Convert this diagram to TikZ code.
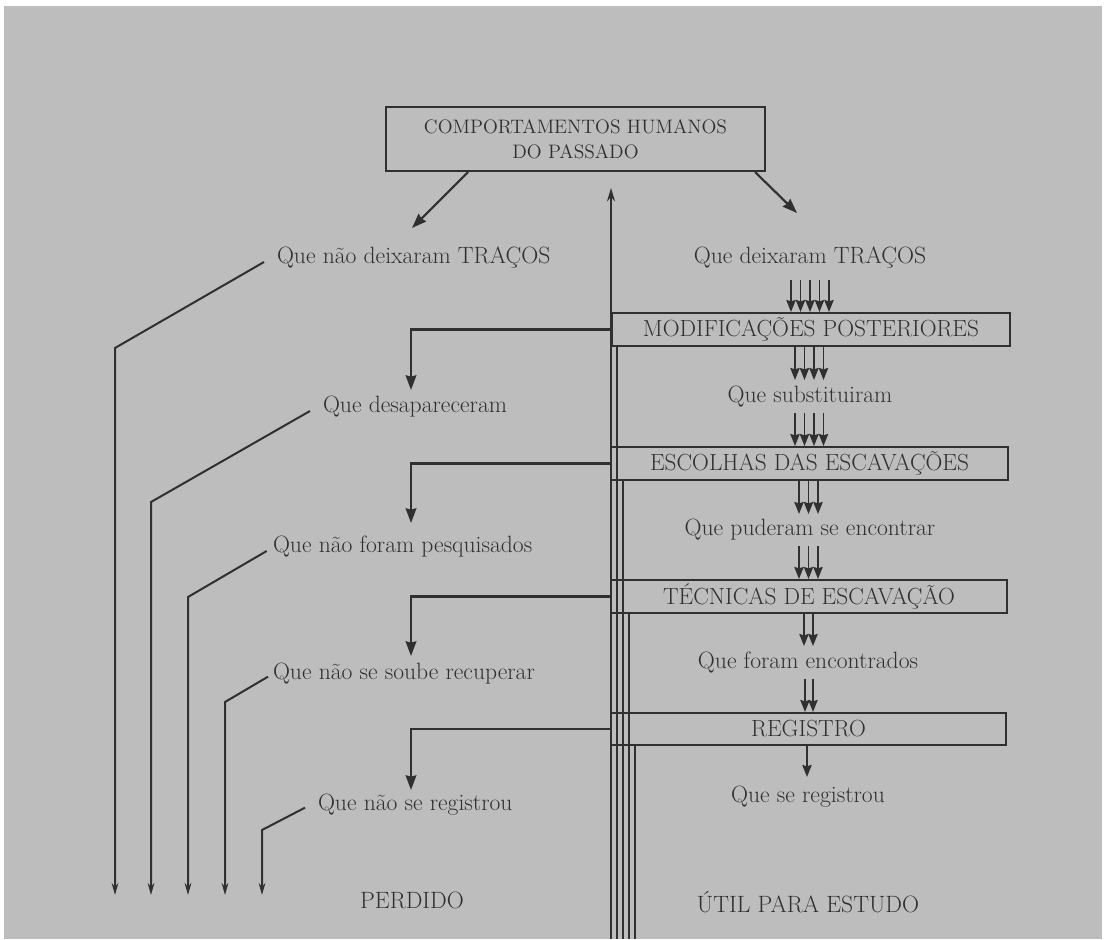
\documentclass[tikz,border=0pt]{standalone}
\usetikzlibrary{arrows.meta}
\definecolor{bg}{RGB}{189,189,189}
\definecolor{ink}{RGB}{48,48,48}
\begin{document}
\begin{tikzpicture}[x=0.75pt,y=-0.75pt,
  line width=1.5pt,
  arr/.style={draw=ink, -{Stealth[length=11pt,width=8pt,inset=1pt]}, line width=1.6pt},
  sarr/.style={draw=ink, -{Stealth[length=9pt,width=7pt,inset=1pt]}, line width=1.3pt},
  larr/.style={draw=ink, -{Stealth[length=9pt,width=5pt]}, line width=1.5pt},
  vline/.style={draw=ink, line width=1.6pt},
  boxn/.style={draw=ink, fill=bg, line width=1.5pt, minimum height=24.75pt, inner sep=0pt, text=ink, font=\fontsize{17.5}{20}\selectfont},
  lbl/.style={text=ink, font=\fontsize{17.7}{20}\selectfont, inner sep=0pt},
]
\useasboundingbox (0,0) rectangle (1106,939);
\fill[white] (0,0) rectangle (1106,939);
\fill[bg] (4,6) rectangle (1102,939);

% vertical channel line
\draw[vline, {Stealth[length=10pt,width=6pt]}-] (611,188) -- (611,939);

% boxes
\node[boxn, minimum width=284pt, minimum height=48pt, align=center, font=\fontsize{14.6}{18.75}\selectfont] (top) at (575.5,139) {COMPORTAMENTOS HUMANOS\\DO PASSADO};
\node[boxn, minimum width=298.5pt] (m1) at (811,329.5) {MODIFICAÇÕES POSTERIORES};
\node[boxn, minimum width=297.75pt] (m2) at (809.5,463.5) {ESCOLHAS DAS ESCAVAÇÕES};
\node[boxn, minimum width=297pt] (m3) at (809,596.5) {TÉCNICAS DE ESCAVAÇÃO};
\node[boxn, minimum width=296.25pt, minimum height=24pt] (m4) at (808.5,729) {REGISTRO};

\draw[vline] (617,0 |- m1.south) -- (617,939);
\draw[vline] (623,0 |- m2.south) -- (623,939);
\draw[vline] (629,0 |- m3.south) -- (629,939);
\draw[vline] (635,0 |- m4.south) -- (635,939);

% right labels
\node[lbl] (r0) at (810,258) {Que deixaram TRAÇOS};
\node[lbl] (r1) at (810,397) {Que substituiram};
\node[lbl] (r2) at (810,530) {Que puderam se encontrar};
\node[lbl] (r3) at (808,663) {Que foram encontrados};
\node[lbl] (r4) at (808,797) {Que se registrou};
\node[lbl] (util) at (808,902) {ÚTIL PARA ESTUDO};

% left labels
\node[lbl, anchor=west] (l0) at (276,258) {Que não deixaram TRAÇOS};
\node[lbl, anchor=west] (l1) at (322,407) {Que desapareceram};
\node[lbl, anchor=west] (l2) at (272,547) {Que não foram pesquisados};
\node[lbl, anchor=west] (l3) at (272,674) {Que não se soube recuperar};
\node[lbl, anchor=west] (l4) at (317,805) {Que não se registrou};
\node[lbl] (perd) at (412,900) {PERDIDO};

% arrows from top box
\coordinate (tA) at (412,228);
\coordinate (tB) at (797,213);
\draw[arr] (468,0 |- top.south) -- (tA);
\draw[arr] (755,0 |- top.south) -- (tB);

% bundles of arrows on the right
\foreach \x in {791,800.5,810,819.5,829} \draw[sarr] (\x,280) -- (\x,0 |- m1.north);
\foreach \x in {795,804.5,814,823.5} \draw[sarr] (\x,0 |- m1.south) -- (\x,380);
\foreach \x in {795,804.5,814,823.5} \draw[sarr] (\x,413) -- (\x,0 |- m2.north);
\foreach \x in {799,808.5,818} \draw[sarr] (\x,0 |- m2.south) -- (\x,514);
\foreach \x in {799,808.5,818} \draw[sarr] (\x,546) -- (\x,0 |- m3.north);
\foreach \x in {804,813} \draw[sarr] (\x,0 |- m3.south) -- (\x,646);
\foreach \x in {805,813} \draw[sarr] (\x,679) -- (\x,0 |- m4.north);
\draw[sarr] (807,0 |- m4.south) -- (807,777);

% branches to the left
\coordinate (b1) at (411,390);
\coordinate (b2) at (411,523);
\coordinate (b3) at (411,656);
\coordinate (b4) at (411,790);
\draw[arr] (m1.west) -| (b1);
\draw[arr] (m2.west) -| (b2);
\draw[arr] (m3.west) -| (b3);
\draw[arr] (m4.west) -| (b4);

% lost paths
\coordinate (k1) at (115,348); \coordinate (e1) at (115,895);
\coordinate (k2) at (151,502); \coordinate (e2) at (151,895);
\coordinate (k3) at (188,597); \coordinate (e3) at (188,895);
\coordinate (k4) at (225,702); \coordinate (e4) at (225,895);
\coordinate (k5) at (262,830); \coordinate (e5) at (262,895);
\draw[larr] ([xshift=-9pt,yshift=-3pt]l0.west) -- (k1) -- (e1);
\draw[larr] ([xshift=-9pt,yshift=-3pt]l1.west) -- (k2) -- (e2);
\draw[larr] ([xshift=-4pt,yshift=-3pt]l2.west) -- (k3) -- (e3);
\draw[larr] ([xshift=-3pt,yshift=-2pt]l3.west) -- (k4) -- (e4);
\draw[larr] ([xshift=-9pt,yshift=-2pt]l4.west) -- (k5) -- (e5);
\end{tikzpicture}
\end{document}
